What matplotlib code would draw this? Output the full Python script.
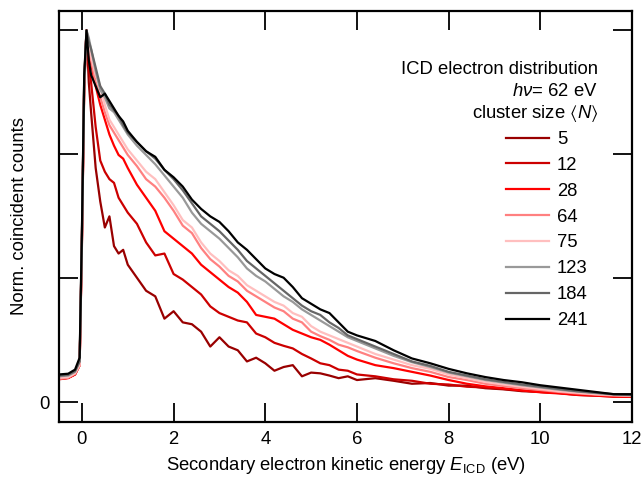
import numpy as np
import matplotlib
matplotlib.use("Agg")
import matplotlib.pyplot as plt

plt.rcParams['font.family'] = ['Liberation Sans', 'DejaVu Sans']
plt.rcParams['font.size'] = 13.3
plt.rcParams['mathtext.fontset'] = 'custom'
plt.rcParams['mathtext.rm'] = 'Liberation Sans'
plt.rcParams['mathtext.it'] = 'Liberation Sans:italic'
plt.rcParams['mathtext.fallback'] = 'stixsans'

# energy grid (eV), dense near the peak
energy = [-0.5, -0.3, -0.15, -0.05, 0.0, 0.05, 0.1, 0.15, 0.2, 0.3, 0.4, 0.5, 0.6, 0.7, 0.8, 0.9, 1.0,
          1.2, 1.4, 1.6, 1.8, 2.0, 2.2, 2.4, 2.6, 2.8, 3.0, 3.2, 3.4, 3.6, 3.8, 4.0, 4.2, 4.4, 4.6, 4.8,
          5.0, 5.2, 5.4, 5.6, 5.8, 6.0,
          6.4, 6.8, 7.2, 7.6, 8.0, 8.4, 8.8, 9.2, 9.6, 10.0, 10.4, 10.8, 11.2, 11.6, 12.0]

sizes = ["5", "12", "28", "64", "75", "123", "184", "241"]
colors = ["#990000", "#cc0000", "#ff0000", "#ff8080", "#ffbfbf", "#999999", "#666666", "#000000"]

n5 = [0.064, 0.066, 0.075, 0.10, 0.42, 0.84, 1.0, 0.86, 0.78, 0.63, 0.54, 0.47, 0.50, 0.42, 0.40, 0.41, 0.37,
      0.335, 0.30, 0.285, 0.225, 0.245, 0.215, 0.21, 0.19, 0.15, 0.175, 0.15, 0.14, 0.11, 0.12, 0.105, 0.085, 0.095, 0.10, 0.07,
      0.08, 0.078, 0.072, 0.065, 0.07, 0.06,
      0.065, 0.058, 0.05, 0.052, 0.045, 0.045, 0.038, 0.035, 0.03, 0.028, 0.025, 0.02, 0.018, 0.016, 0.015]
n12 = [0.063, 0.066, 0.076, 0.10, 0.43, 0.85, 1.0, 0.90, 0.86, 0.74, 0.65, 0.62, 0.60, 0.59, 0.55, 0.53, 0.51,
       0.48, 0.43, 0.395, 0.40, 0.345, 0.33, 0.31, 0.29, 0.258, 0.24, 0.23, 0.22, 0.215, 0.185, 0.175, 0.16, 0.152, 0.145, 0.13,
       0.118, 0.105, 0.10, 0.088, 0.085, 0.075,
       0.07, 0.062, 0.058, 0.05, 0.048, 0.042, 0.04, 0.036, 0.032, 0.028, 0.026, 0.022, 0.02, 0.018, 0.016]
n28 = [0.062, 0.065, 0.075, 0.10, 0.44, 0.86, 1.0, 0.94, 0.91, 0.85, 0.80, 0.76, 0.72, 0.69, 0.665, 0.655, 0.63,
       0.585, 0.55, 0.515, 0.46, 0.44, 0.42, 0.40, 0.37, 0.35, 0.33, 0.31, 0.295, 0.27, 0.235, 0.23, 0.225, 0.21, 0.195, 0.185,
       0.175, 0.168, 0.155, 0.14, 0.125, 0.115,
       0.10, 0.092, 0.082, 0.072, 0.06, 0.05, 0.043, 0.038, 0.032, 0.027, 0.024, 0.02, 0.018, 0.015, 0.015]
n64 = [0.063, 0.066, 0.077, 0.10, 0.44, 0.86, 1.0, 0.95, 0.92, 0.86, 0.82, 0.78, 0.745, 0.725, 0.705, 0.685, 0.665,
       0.635, 0.60, 0.58, 0.55, 0.515, 0.475, 0.455, 0.415, 0.385, 0.365, 0.34, 0.325, 0.30, 0.285, 0.27, 0.255, 0.245, 0.225, 0.215,
       0.19, 0.178, 0.168, 0.155, 0.148, 0.138,
       0.12, 0.105, 0.092, 0.082, 0.068, 0.06, 0.05, 0.044, 0.038, 0.033, 0.028, 0.024, 0.021, 0.018, 0.017]
n75 = [0.066, 0.068, 0.078, 0.10, 0.44, 0.86, 1.0, 0.96, 0.93, 0.88, 0.85, 0.80, 0.76, 0.74, 0.72, 0.70, 0.68,
       0.65, 0.62, 0.60, 0.565, 0.53, 0.49, 0.47, 0.43, 0.40, 0.38, 0.355, 0.34, 0.315, 0.30, 0.285, 0.27, 0.26, 0.24, 0.23,
       0.205, 0.19, 0.18, 0.17, 0.16, 0.15,
       0.13, 0.115, 0.10, 0.09, 0.075, 0.065, 0.055, 0.048, 0.042, 0.036, 0.03, 0.026, 0.022, 0.02, 0.018]
n123 = [0.07, 0.072, 0.082, 0.11, 0.45, 0.87, 1.0, 0.98, 0.95, 0.89, 0.84, 0.82, 0.79, 0.78, 0.76, 0.74, 0.72,
        0.69, 0.665, 0.64, 0.61, 0.58, 0.55, 0.51, 0.48, 0.46, 0.44, 0.415, 0.39, 0.36, 0.34, 0.325, 0.305, 0.285, 0.27, 0.25,
        0.235, 0.22, 0.205, 0.19, 0.175, 0.165,
        0.145, 0.125, 0.108, 0.095, 0.08, 0.07, 0.06, 0.053, 0.046, 0.04, 0.034, 0.029, 0.025, 0.021, 0.019]
n184 = [0.072, 0.074, 0.084, 0.11, 0.45, 0.87, 1.0, 0.97, 0.95, 0.90, 0.85, 0.83, 0.80, 0.785, 0.77, 0.745, 0.725,
        0.70, 0.675, 0.655, 0.625, 0.60, 0.57, 0.535, 0.50, 0.48, 0.46, 0.435, 0.41, 0.38, 0.36, 0.34, 0.32, 0.30, 0.28, 0.26,
        0.245, 0.235, 0.215, 0.20, 0.18, 0.17,
        0.15, 0.13, 0.11, 0.098, 0.082, 0.072, 0.062, 0.055, 0.048, 0.042, 0.036, 0.03, 0.026, 0.022, 0.02]
n241 = [0.075, 0.077, 0.088, 0.12, 0.46, 0.88, 1.0, 0.92, 0.88, 0.85, 0.82, 0.83, 0.81, 0.79, 0.77, 0.755, 0.73,
        0.70, 0.675, 0.66, 0.625, 0.605, 0.58, 0.545, 0.52, 0.50, 0.485, 0.46, 0.43, 0.41, 0.385, 0.36, 0.345, 0.335, 0.31, 0.28,
        0.265, 0.25, 0.24, 0.215, 0.19, 0.18,
        0.165, 0.14, 0.118, 0.105, 0.09, 0.078, 0.068, 0.06, 0.054, 0.046, 0.04, 0.034, 0.028, 0.022, 0.022]

curves = [n5, n12, n28, n64, n75, n123, n184, n241]

fig = plt.figure(figsize=(6.43, 4.78), dpi=100)
ax = fig.add_axes([59/643, 1-421.7/478, (632-59)/643, (421.7-11)/478])

lines = []
for lab, col, y in zip(sizes, colors, curves):
    l, = ax.plot(energy, y, color=col, lw=1.6, label=lab)
    lines.append(l)

ax.set_xlim(-0.5, 12)
ax.set_ylim(-0.052, 1.052)
ax.set_xticks(np.arange(0, 13, 2))
ax.set_yticks([0, 1/3, 2/3, 1])
ax.set_yticklabels(["0", "", "", ""])
ax.tick_params(direction="in", length=14, width=1.3, top=True, right=True, pad=7)
for sp in ax.spines.values():
    sp.set_linewidth(1.6)

ax.set_xlabel(r"Secondary electron kinetic energy $\mathit{E}_{\mathrm{ICD}}$ (eV)", labelpad=5)
ax.set_ylabel("Norm. coincident counts", labelpad=8)

# legend header, right aligned
fig.text(598/643, 1-69/478, "ICD electron distribution", ha="right", va="center")
fig.text(598/643, 1-91/478, r"$\mathit{h\nu}$= 62 eV", ha="right", va="center")
fig.text(598/643, 1-114/478, r"cluster size $\langle\mathit{N}\rangle$", ha="right", va="center")

ax.legend(handles=lines, loc="upper left", bbox_to_anchor=(506/643, 1-131/478),
          bbox_transform=fig.transFigure, frameon=False, borderpad=0,
          handlelength=2.35, handletextpad=0.4, labelspacing=0.48, borderaxespad=0)

plt.savefig("out.png", dpi=100)
